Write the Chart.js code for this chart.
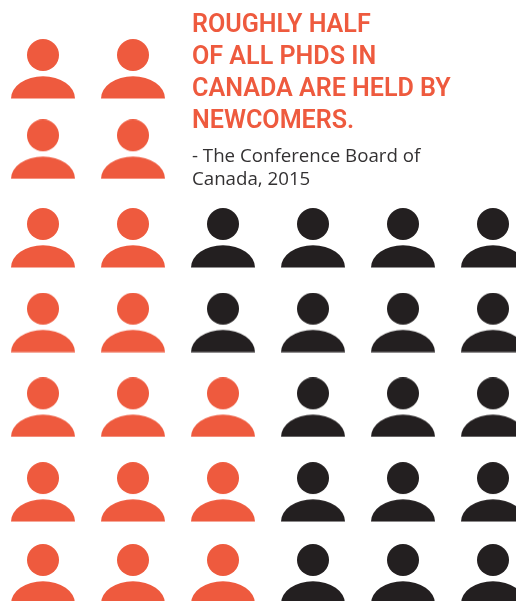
<!DOCTYPE html>
<html lang="en">
<head>
  <meta charset="UTF-8"/>
  <meta name="viewport" content="width=device-width, initial-scale=1.0"/>
  <title>PhDs in Canada</title>
  <script src="https://cdn.jsdelivr.net/npm/chart.js"></script>
  <style>
    html, body {
      margin: 0;
      background: #fff;
      overflow: hidden;
    }

    .wrap {
      position: relative;
      width: 516px;
      height: 601px;
    }

    canvas {
      display: block;
    }

    .headline, .source {
      position: absolute;
      left: 192px;
      margin: 0;
      white-space: nowrap;
    }

    .headline {
      top: 8px;
      font: 600 25.1px/32px Roboto, sans-serif;
      color: #ee5a3e;
    }

    .source {
      top: 144px;
      font: 400 18.7px/22.5px 'Open Sans', sans-serif;
      color: #333132;
    }
  </style>
</head>
<body>
  <div class="wrap">
    <canvas id="peopleChart" width="516" height="601"></canvas>
    <h1 class="headline">ROUGHLY HALF<br>OF ALL PHDS IN<br>CANADA ARE HELD BY<br>NEWCOMERS.</h1>
    <p class="source">- The Conference Board of<br>Canada, 2015</p>
  </div>

  <script>
    // People in each row, and how many of them are newcomers
    const rowTotals = [2, 2, 6, 6, 6, 6, 6];
    const newcomerCounts = [2, 2, 2, 2, 3, 3, 3];

    const ORANGE = '#ee5a3e';
    const BLACK = '#231f20';

    // The rows sit in three blocks with their own spacing, one y axis per block
    const blocks = [
      { axis: 'yTop', first: 0, last: 1, start: 69, step: 80.3 },
      { axis: 'yMid', first: 2, last: 5, start: 238, step: 84.67 },
      { axis: 'yEnd', first: 6, last: 6, start: 574, step: 84 }
    ];

    // Person icon used as the point style
    function personIcon(color) {
      const icon = document.createElement('canvas');
      icon.width = 66;
      icon.height = 60;
      const c = icon.getContext('2d');
      c.fillStyle = color;
      c.beginPath();
      c.arc(33, 16, 16, 0, Math.PI * 2);
      c.fill();
      c.beginPath();
      c.ellipse(33, 59.5, 32, 22.2, 0, Math.PI, Math.PI * 2);
      c.closePath();
      c.fill();
      return icon;
    }

    function peopleDatasets(block, fromCol, toCol, color, label) {
      const points = [];
      for (let row = block.first; row <= block.last; row++) {
        for (let col = fromCol(row); col < toCol(row); col++) {
          points.push({ x: col, y: row });
        }
      }
      return {
        label,
        data: points,
        yAxisID: block.axis,
        pointStyle: personIcon(color),
        pointRadius: 33,
        clip: false
      };
    }

    const datasets = [];
    blocks.forEach(block => {
      datasets.push(peopleDatasets(block, () => 0, row => newcomerCounts[row], ORANGE, 'Newcomers'));
      datasets.push(peopleDatasets(block, row => newcomerCounts[row], row => rowTotals[row], BLACK, 'Others'));
    });

    const scales = {
      x: { type: 'linear', display: false, min: -43 / 90, max: (516 - 43) / 90 }
    };
    blocks.forEach(block => {
      scales[block.axis] = {
        type: 'linear',
        display: false,
        reverse: true,
        min: block.first - block.start / block.step,
        max: block.first + (601 - block.start) / block.step
      };
    });

    new Chart(document.getElementById('peopleChart'), {
      type: 'scatter',
      data: { datasets },
      options: {
        responsive: false,
        animation: false,
        events: [],
        layout: { padding: 0, autoPadding: false },
        plugins: {
          legend: { display: false },
          tooltip: { enabled: false }
        },
        scales
      }
    });
  </script>
</body>
</html>
